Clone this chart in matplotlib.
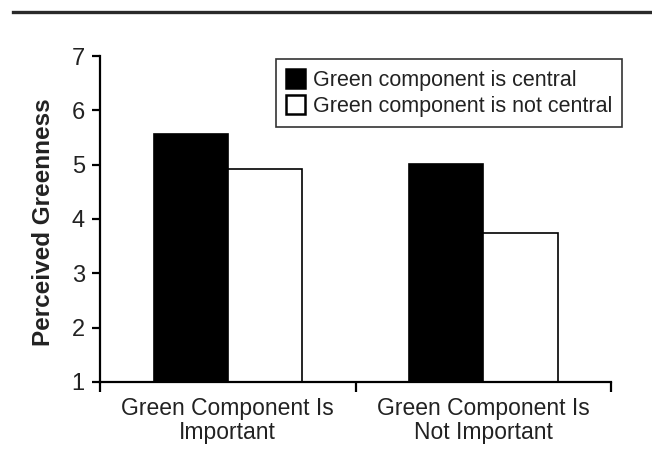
import matplotlib

matplotlib.use("Agg")
import matplotlib.pyplot as plt
import numpy as np
from matplotlib.lines import Line2D
from matplotlib.ticker import FixedLocator, NullFormatter

plt.rcParams["font.family"] = ["Liberation Sans", "DejaVu Sans"]

categories = ["Green Component Is\nImportant", "Green Component Is\nNot Important"]
series_names = ["Green component is central", "Green component is not central"]
central = [5.56, 5.02]
not_central = [4.92, 3.74]
yticks = [1, 2, 3, 4, 5, 6, 7]

fig = plt.figure(figsize=(6.52, 4.63), dpi=100)
ax = fig.add_axes([0.1534, 0.175, 0.784, 0.704])

x = np.arange(len(categories))
w = 0.29
ax.bar(x - w / 2, np.array(central) - 1, w, bottom=1, color="black",
       edgecolor="black", linewidth=1.2, label=series_names[0])
ax.bar(x + w / 2, np.array(not_central) - 1, w, bottom=1, color="white",
       edgecolor="black", linewidth=1.2, label=series_names[1])

ax.set_xlim(-0.5, 1.5)
ax.set_ylim(1, 7)
ax.set_yticks(yticks)
ax.set_xticks(x)
ax.set_xticklabels(categories, fontsize=16.5, linespacing=1.05, color="#222222")
ax.tick_params(axis="x", which="major", length=0, pad=11)
ax.xaxis.set_minor_locator(FixedLocator([-0.5, 0.5, 1.5]))
ax.xaxis.set_minor_formatter(NullFormatter())
ax.tick_params(axis="x", which="minor", length=7, width=1.6, direction="out")
ax.tick_params(axis="y", length=6, width=1.6, labelsize=17, pad=5,
               labelcolor="#222222")
ax.spines["top"].set_visible(False)
ax.spines["right"].set_visible(False)
ax.spines["left"].set_linewidth(1.6)
ax.spines["bottom"].set_linewidth(1.6)
ax.set_ylabel("Perceived Greenness", fontsize=17.5, fontweight="bold",
              color="#222222")
ax.yaxis.set_label_coords(-0.088, 0.49)

leg = ax.legend(loc="upper left", bbox_to_anchor=(276 / 652, 1 - 59 / 463),
                bbox_transform=fig.transFigure, fontsize=15.5, frameon=True,
                fancybox=False, edgecolor="#333333", framealpha=1,
                borderpad=0.45, labelspacing=0.2, handlelength=0.92,
                handleheight=1.0, handletextpad=0.36, borderaxespad=0)
leg.get_frame().set_linewidth(1.2)
for txt in leg.get_texts():
    txt.set_color("#222222")
for h in leg.legend_handles:
    h.set_linewidth(1.8)

fig.add_artist(Line2D([13 / 652, 1.0], [1 - 11.5 / 463] * 2,
                      transform=fig.transFigure, color="#2a2a2a", linewidth=2.4))

fig.savefig("out.png", dpi=100)
